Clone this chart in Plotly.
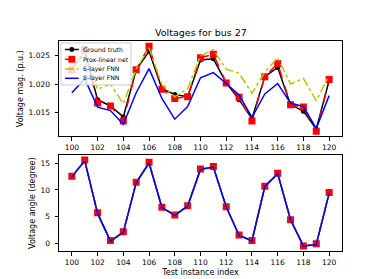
import plotly.graph_objects as go
from plotly.subplots import make_subplots

idx = list(range(100, 121))

# Voltage magnitude (p.u.)
mag_gt = [1.0224, 1.0257, 1.0173, 1.0162, 1.0143, 1.0225, 1.0257, 1.0192, 1.0182, 1.0178, 1.0242,
          1.0244, 1.0202, 1.0173, 1.0140, 1.0213, 1.0229, 1.0164, 1.0153, 1.0122, 1.0206]
mag_prox = [1.0225, 1.0260, 1.0167, 1.0162, 1.0136, 1.0225, 1.0266, 1.0191, 1.0175, 1.0178, 1.0246,
            1.0252, 1.0202, 1.0177, 1.0136, 1.0213, 1.0236, 1.0164, 1.0160, 1.0118, 1.0208]
mag_fnn6 = [1.0222, 1.0257, 1.0191, 1.0200, 1.0166, 1.0226, 1.0263, 1.0199, 1.0178, 1.0192, 1.0249,
            1.0260, 1.0226, 1.0219, 1.0184, 1.0221, 1.0246, 1.0200, 1.0210, 1.0171, 1.0215]
mag_fnn8 = [1.0185, 1.0209, 1.0160, 1.0154, 1.0130, 1.0185, 1.0227, 1.0175, 1.0139, 1.0161, 1.0211,
            1.0220, 1.0201, 1.0181, 1.0142, 1.0183, 1.0201, 1.0167, 1.0161, 1.0123, 1.0180]

# Voltage angle (degree)
ang_gt = [12.5, 15.5, 5.6, 0.4, 2.1, 11.4, 15.1, 6.7, 5.3, 7.0, 13.9,
          14.3, 6.8, 1.5, 0.5, 10.6, 13.1, 4.4, -0.5, -0.2, 9.4]
ang_prox = [12.55, 15.6, 5.7, 0.5, 2.15, 11.45, 15.2, 6.75, 5.3, 7.05, 13.95,
            14.4, 6.85, 1.55, 0.5, 10.7, 13.15, 4.4, -0.5, -0.1, 9.5]
ang_fnn6 = [12.5, 15.5, 5.6, 0.4, 2.1, 11.4, 15.1, 6.7, 5.3, 7.0, 13.9,
            14.3, 6.8, 1.5, 0.5, 10.6, 13.1, 4.4, -0.5, -0.2, 9.4]
ang_fnn8 = [12.45, 15.45, 5.6, 0.35, 2.05, 11.35, 15.0, 6.7, 5.25, 6.95, 13.85,
            14.3, 6.8, 1.45, 0.45, 10.6, 13.05, 4.4, -0.55, -0.25, 9.35]

x_ticks = list(range(100, 121, 2))
series_names = ["Ground truth", "Prox-linear net", "6-layer FNN", "8-layer FNN"]

FONT = "DejaVu Sans"
COLORS = ["black", "red", "#bfbf00", "blue"]
DASHES = ["solid", "dash", "dashdot", "solid"]

fig = make_subplots(rows=2, cols=1, vertical_spacing=0.09)

def add_series(row, gt, prox, f6, f8):
    fig.add_trace(go.Scatter(x=idx, y=gt, mode="lines+markers", name=series_names[0],
                             line=dict(color=COLORS[0], width=1.5),
                             marker=dict(symbol="circle", size=5, color=COLORS[0])), row=row, col=1)
    fig.add_trace(go.Scatter(x=idx, y=prox, mode="lines+markers", name=series_names[1],
                             line=dict(color=COLORS[1], width=1.5, dash=DASHES[1]),
                             marker=dict(symbol="square", size=7, color=COLORS[1])), row=row, col=1)
    fig.add_trace(go.Scatter(x=idx, y=f6, mode="lines", name=series_names[2],
                             line=dict(color=COLORS[2], width=1.5, dash=DASHES[2])), row=row, col=1)
    fig.add_trace(go.Scatter(x=idx, y=f8, mode="lines", name=series_names[3],
                             line=dict(color=COLORS[3], width=1.5)), row=row, col=1)

add_series(1, mag_gt, mag_prox, mag_fnn6, mag_fnn8)
add_series(2, ang_gt, ang_prox, ang_fnn6, ang_fnn8)

axis_common = dict(showline=True, linecolor="black", linewidth=1, mirror=True,
                   ticks="outside", ticklen=3.5, tickwidth=1, tickcolor="black",
                   showgrid=False, zeroline=False,
                   tickfont=dict(family=FONT, size=7.5, color="black"))

LABEL_FONT = dict(family=FONT, size=8, color="black")

fig.update_xaxes(range=[99, 121], tickvals=x_ticks, ticktext=[str(t) for t in x_ticks], **axis_common)
fig.update_xaxes(title=dict(text="Test instance index", font=LABEL_FONT, standoff=3), row=2, col=1)
fig.update_yaxes(ticklabelstandoff=3, **axis_common)
fig.update_yaxes(range=[1.0109, 1.0275], tickvals=[1.015, 1.020, 1.025],
                 ticktext=["1.015", "1.020", "1.025"],
                 title=dict(text="Voltage mag. (p.u.)", font=LABEL_FONT, standoff=3),
                 row=1, col=1)
fig.update_yaxes(range=[-1.45, 16.5], tickvals=[0, 5, 10, 15],
                 title=dict(text="Voltage angle (degree)", font=LABEL_FONT, standoff=3),
                 row=2, col=1)

# Compact matplotlib-style legend drawn in the top axes' domain coordinates
AX_W, AX_H = 287.0, 97.7
def px_x(p):
    return p / AX_W
def px_y(p):
    return p / AX_H

shapes = [dict(type="rect", xref="x domain", yref="y domain",
               x0=px_x(2), x1=px_x(73), y0=1 - px_y(45), y1=1 - px_y(2),
               fillcolor="rgba(255,255,255,0.8)", line=dict(color="#cccccc", width=1), layer="above")]
annotations = []
row_y = [8.7, 18.7, 28.7, 38.2]
for i, name in enumerate(series_names):
    yc = 1 - px_y(row_y[i])
    shapes.append(dict(type="line", xref="x domain", yref="y domain",
                       x0=px_x(6), x1=px_x(20), y0=yc, y1=yc, layer="above",
                       line=dict(color=COLORS[i], width=1.5, dash=DASHES[i])))
    if i == 0:
        shapes.append(dict(type="circle", xref="x domain", yref="y domain", layer="above",
                           x0=px_x(13 - 2.5), x1=px_x(13 + 2.5), y0=yc - px_y(2.5), y1=yc + px_y(2.5),
                           fillcolor=COLORS[0], line=dict(width=0)))
    if i == 1:
        shapes.append(dict(type="rect", xref="x domain", yref="y domain", layer="above",
                           x0=px_x(13 - 3.5), x1=px_x(13 + 3.5), y0=yc - px_y(3.5), y1=yc + px_y(3.5),
                           fillcolor=COLORS[1], line=dict(width=0)))
    annotations.append(dict(xref="x domain", yref="y domain", x=px_x(22.5), y=yc,
                            xanchor="left", yanchor="middle", showarrow=False, text=name,
                            font=dict(family=FONT, size=6.2, color="black")))

fig.update_layout(
    width=371, height=279,
    margin=dict(l=47, r=37, t=33, b=31),
    paper_bgcolor="white", plot_bgcolor="white",
    title=dict(text="Voltages for bus 27", x=0.52, xanchor="center",
               yref="container", y=1 - 25.0 / 279, yanchor="middle",
               font=dict(family=FONT, size=9.5, color="black")),
    yaxis=dict(domain=[0.5456, 1.0]),
    yaxis2=dict(domain=[0.0, 0.4558]),
    showlegend=False,
    shapes=shapes,
    annotations=annotations,
)

fig.write_html("out.html")
